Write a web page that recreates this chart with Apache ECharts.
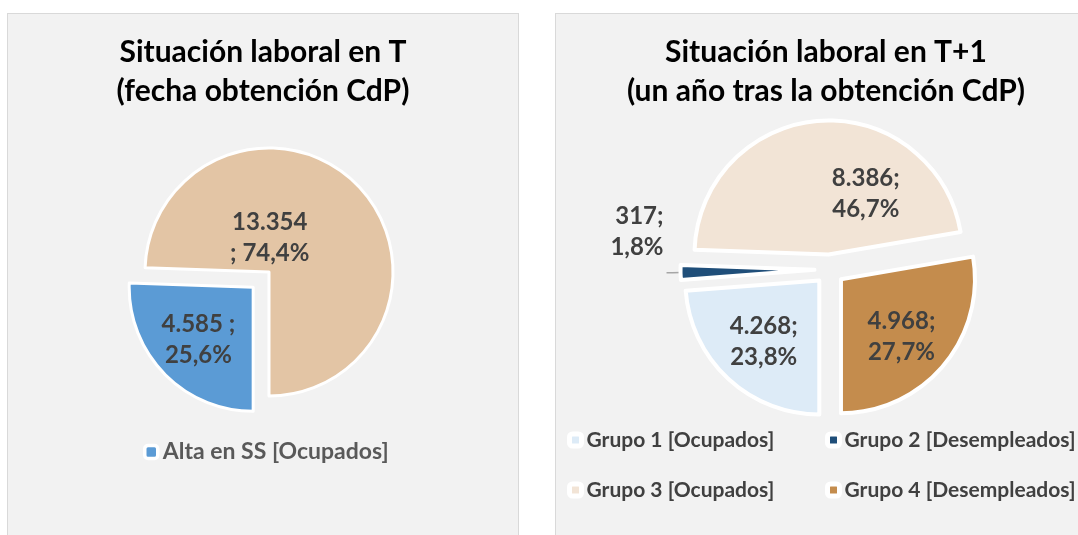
<!DOCTYPE html>
<html>
<head>
<meta charset="utf-8">
<script src="https://cdn.jsdelivr.net/npm/echarts@6/dist/echarts.min.js"></script>
<style>
  html, body { margin: 0; padding: 0; background: #fff; overflow: hidden; }
  .panel { position: absolute; top: 13px; height: 540px; background: #f2f2f2; border: 1px solid #d9d9d9; }
  #chartT { left: 7px; width: 510px; }
  #chartT1 { left: 555px; width: 540px; }
</style>
</head>
<body>
<div id="chartT" class="panel"></div>
<div id="chartT1" class="panel"></div>
<script>
  // situación en T
  const namesT = ['Alta en SS [Ocupados]', 'Sin alta en SS']
  const valuesT = [4585, 13354]
  const colorsT = ['#5b9bd5', '#e3c5a5']

  // situación en T+1
  const namesT1 = ['Grupo 1 [Ocupados]', 'Grupo 2 [Desempleados]', 'Grupo 3 [Ocupados]', 'Grupo 4 [Desempleados]']
  const valuesT1 = [4268, 317, 8386, 4968]
  const colorsT1 = ['#ddebf7', '#1f4e79', '#f2e4d6', '#c48c4d']

  const fontFamily = 'Lato, "Open Sans", sans-serif'

  function fmtNum(v) {
    return String(v).replace(/\B(?=(\d{3})+(?!\d))/g, '.')
  }
  function fmtPct(v, values) {
    const total = values.reduce((a, b) => a + b, 0)
    return (v / total * 100).toFixed(1).replace('.', ',') + '%'
  }

  function titleOpt(text) {
    return {
      text: text,
      left: 'center',
      top: 19,
      padding: 0,
      textStyle: { fontFamily, fontSize: 30, fontWeight: 'bold', color: '#000', lineHeight: 39 }
    }
  }

  const labelStyle = { fontFamily, fontSize: 24, fontWeight: 'bold', color: '#404040', lineHeight: 31 }

  // ---- left chart
  const chartT = echarts.init(document.getElementById('chartT'))
  const shiftT = [[-8, 7], [-46, 11]]
  chartT.setOption({
    animation: false,
    title: titleOpt('Situación laboral en T\n(fecha obtención CdP)'),
    legend: {
      data: [namesT[0]],
      left: 135,
      top: 424,
      padding: 0,
      itemWidth: 13,
      itemHeight: 13,
      itemGap: 0,
      itemStyle: { borderColor: '#fff', borderWidth: 3.5 },
      textStyle: { fontFamily, fontSize: 23, fontWeight: 'bold', color: '#595959', lineHeight: 28 }
    },
    series: [{
      type: 'pie',
      center: [261, 258],
      radius: 124,
      startAngle: -90,
      clockwise: true,
      selectedMode: 'multiple',
      selectedOffset: 22,
      silent: true,
      itemStyle: { borderColor: '#fff', borderWidth: 3 },
      label: {
        position: 'inside',
        ...labelStyle,
        formatter: p => p.dataIndex === 0
          ? fmtNum(p.value) + ' ;\n' + fmtPct(p.value, valuesT)
          : fmtNum(p.value) + '\n; ' + fmtPct(p.value, valuesT)
      },
      labelLayout: p => ({ dx: shiftT[p.dataIndex][0], dy: shiftT[p.dataIndex][1] }),
      data: valuesT.map((v, i) => ({
        name: namesT[i],
        value: v,
        selected: i === 0,
        itemStyle: { color: colorsT[i] }
      }))
    }]
  })

  // ---- right chart
  const chartT1 = echarts.init(document.getElementById('chartT1'))
  const shiftT1 = [[-8, 10], [2, -41], [42, 9], [7, 12]]
  const legendT1 = (items, left) => ({
    data: items,
    orient: 'vertical',
    left: left,
    top: 414,
    padding: 0,
    itemGap: 26,
    itemWidth: 12,
    itemHeight: 12,
    itemStyle: { borderColor: '#fff', borderWidth: 5 },
    textStyle: { fontFamily, fontSize: 21, fontWeight: 'bold', color: '#404040', lineHeight: 24 }
  })
  chartT1.setOption({
    animation: false,
    title: titleOpt('Situación laboral en T+1\n(un año tras la obtención CdP)'),
    legend: [
      legendT1([namesT1[0], namesT1[2]], 11),
      legendT1([namesT1[1], namesT1[3]], 269)
    ],
    series: [{
      type: 'pie',
      center: [273.5, 255.5],
      radius: 134,
      startAngle: -90,
      clockwise: true,
      selectedMode: 'multiple',
      selectedOffset: 15,
      silent: true,
      itemStyle: { borderColor: '#fff', borderWidth: 4 },
      label: {
        position: 'inside',
        ...labelStyle,
        formatter: p => fmtNum(p.value) + ';\n' + fmtPct(p.value, valuesT1)
      },
      labelLine: { show: true, lineStyle: { color: '#a6a6a6', width: 1.5 } },
      labelLayout: p => ({ dx: shiftT1[p.dataIndex][0], dy: shiftT1[p.dataIndex][1] }),
      data: valuesT1.map((v, i) => ({
        name: namesT1[i],
        value: v,
        selected: true,
        itemStyle: { color: colorsT1[i] },
        label: i === 1 ? { position: 'outside' } : undefined,
        labelLine: i === 1 ? { length: 8, length2: 6 } : undefined
      }))
    }]
  })
</script>
</body>
</html>
